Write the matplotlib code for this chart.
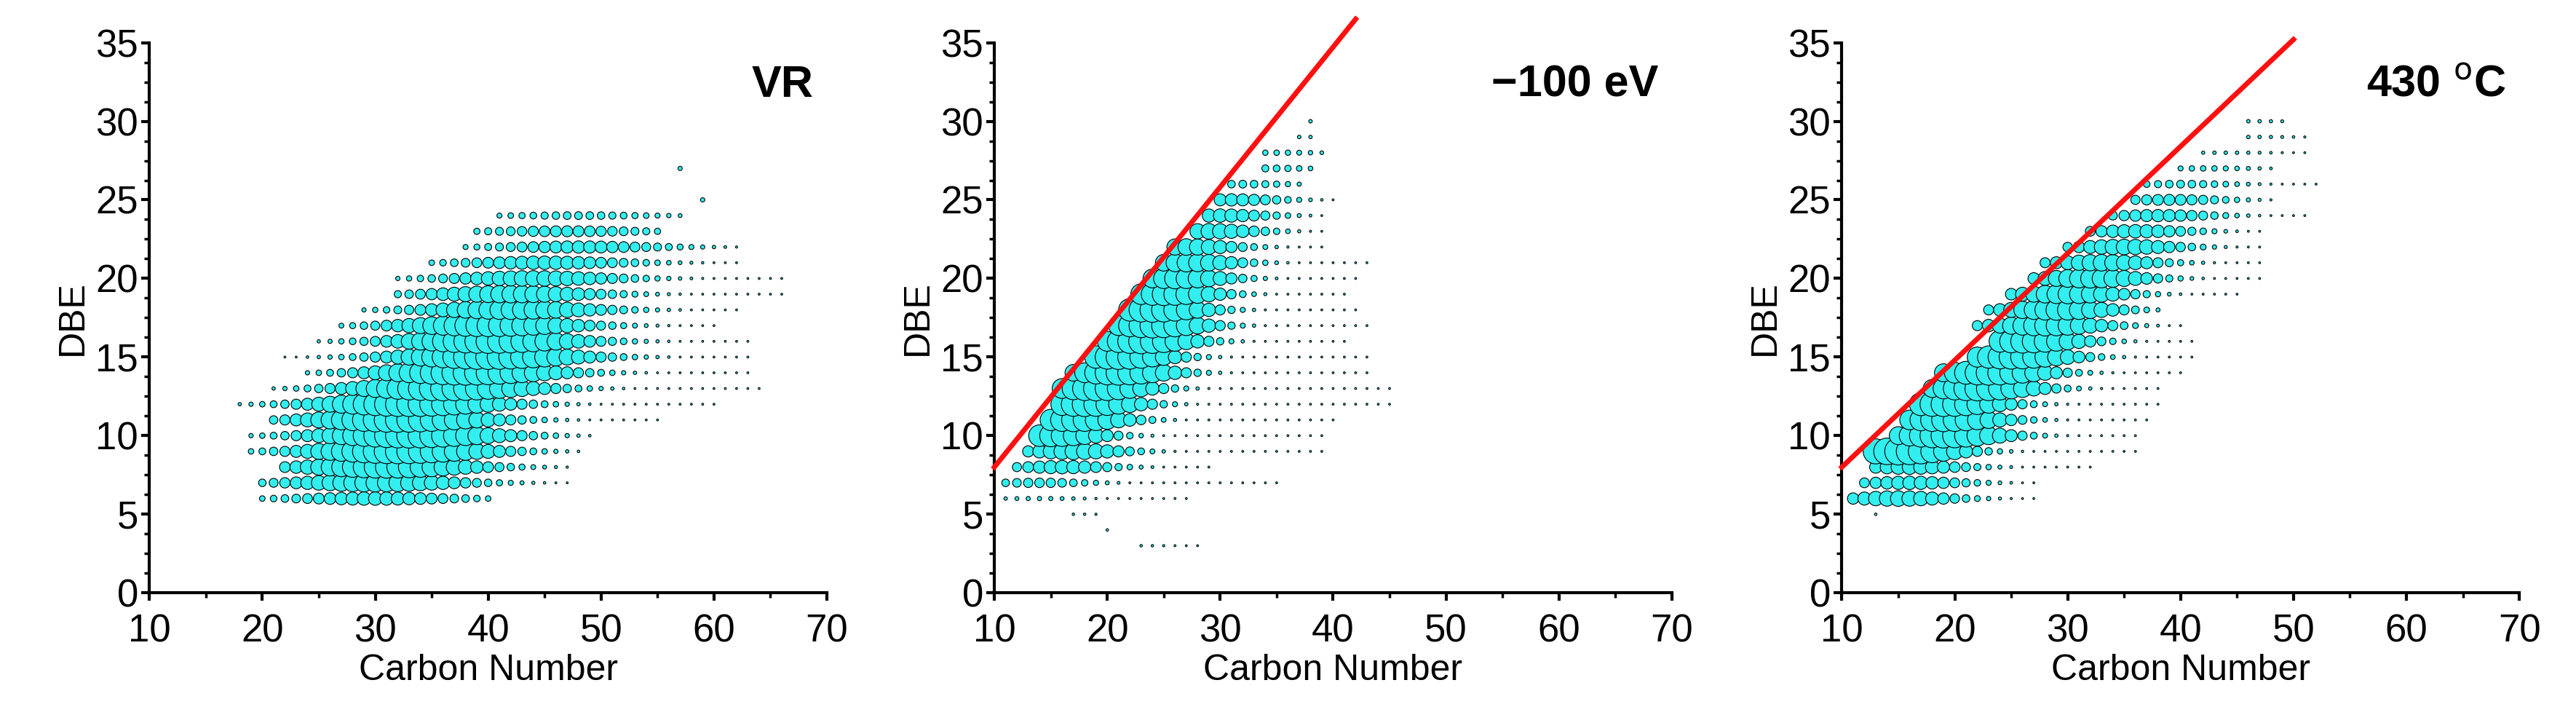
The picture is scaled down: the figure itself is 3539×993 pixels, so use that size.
import numpy as np
import matplotlib.pyplot as plt
from matplotlib.ticker import MultipleLocator

plt.rcParams['font.family'] = ['Liberation Sans', 'DejaVu Sans']

# per DBE row: min carbon, max carbon, carbon of biggest bubble, relative size of biggest bubble
vr_dbe = [6, 7, 8, 9, 10, 11, 12, 13, 14, 15, 16, 17, 18, 19, 20, 21, 22, 23, 24, 25, 27]
vr_cmin = [20, 20, 22, 19, 19, 21, 18, 21, 24, 22, 25, 27, 29, 32, 32, 35, 38, 39, 41, 59, 57]
vr_cmax = [40, 47, 47, 48, 49, 55, 60, 64, 63, 63, 63, 60, 62, 66, 66, 62, 62, 55, 57, 59, 57]
vr_cpk = [30, 30, 31, 32, 33, 32, 33, 36, 38, 40, 40, 40, 42, 42, 44, 45, 48, 47, 48, 59, 57]
vr_amp = [0.3, 0.55, 0.8, 1.0, 1.0, 1.0, 1.0, 1.0, 1.0, 1.0, 0.95, 0.8, 0.6, 0.5, 0.4, 0.3, 0.25, 0.2, 0.1, 0.03, 0.03]

ev_dbe = [3, 4, 5, 6, 7, 8, 9, 10, 11, 12, 13, 14, 15, 16, 17, 18, 19, 20, 21, 22, 23, 24, 25, 26, 27, 28, 29, 30]
ev_cmin = [23, 20, 17, 11, 11, 12, 13, 14, 15, 16, 16, 17, 19, 20, 21, 22, 23, 24, 25, 26, 28, 29, 30, 31, 34, 34, 37, 38]
ev_cmax = [28, 20, 19, 27, 35, 29, 39, 39, 40, 45, 45, 43, 43, 41, 43, 42, 41, 42, 43, 39, 39, 39, 40, 37, 38, 39, 38, 38]
ev_cpk = [23, 20, 17, 14, 14, 16, 17, 15, 17, 18, 19, 21, 21, 23, 24, 24, 25, 26, 27, 27, 29, 30, 31, 32, 34, 35, 37, 38]
ev_amp = [0.01, 0.01, 0.01, 0.03, 0.15, 0.3, 0.45, 0.8, 0.9, 1.0, 1.0, 1.0, 1.0, 1.0, 1.0, 1.0, 0.85, 0.7, 0.55, 0.45, 0.4, 0.3, 0.25, 0.1, 0.08, 0.05, 0.02, 0.02]

t_dbe = [5, 6, 7, 8, 9, 10, 11, 12, 13, 14, 15, 16, 17, 18, 19, 20, 21, 22, 23, 24, 25, 26, 27, 28, 29, 30]
t_cmin = [13, 11, 12, 13, 13, 15, 16, 17, 18, 19, 22, 24, 22, 23, 25, 27, 28, 30, 32, 34, 36, 37, 40, 42, 46, 46]
t_cmax = [13, 27, 27, 32, 36, 36, 37, 38, 38, 40, 41, 41, 40, 38, 45, 47, 47, 47, 47, 51, 48, 52, 48, 51, 51, 49]
t_cpk = [13, 15, 16, 16, 15, 19, 19, 19, 22, 23, 25, 26, 28, 29, 30, 32, 33, 35, 36, 38, 39, 40, 42, 44, 46, 46]
t_amp = [0.01, 0.4, 0.3, 0.35, 1.2, 1.0, 0.9, 1.0, 1.0, 1.0, 0.95, 0.9, 0.7, 0.7, 0.6, 0.6, 0.45, 0.4, 0.3, 0.25, 0.2, 0.1, 0.05, 0.02, 0.02, 0.02]

titles = ['VR', '\u2212100 eV', '430 $^{\\rm o}$C']
# red boundary lines: (x0, y0, x1, y1)
limit_lines = [None, (10, 8, 42, 36.5), (10, 8, 50, 35.2)]

panels = [
    (vr_dbe, vr_cmin, vr_cmax, vr_cpk, vr_amp, 7.5),
    (ev_dbe, ev_cmin, ev_cmax, ev_cpk, ev_amp, 4.5),
    (t_dbe, t_cmin, t_cmax, t_cpk, t_amp, 5.0),
]

fig = plt.figure(figsize=(35.39, 9.93), dpi=100)
lefts = [0.058, 0.386, 0.715]
for i, (dbe, cmin, cmax, cpk, amp, w) in enumerate(panels):
    ax = fig.add_axes([lefts[i], 0.180, 0.263, 0.761])
    xs, ys, ss = [], [], []
    for d, lo, hi, pk, a in zip(dbe, cmin, cmax, cpk, amp):
        for c in range(lo, hi + 1):
            rel = a * np.exp(-((c - pk) / w) ** 2)
            xs.append(c)
            ys.append(d)
            ss.append(max(rel, 0.006) * 600)
    ax.scatter(xs, ys, s=ss, c='#33EEEE', edgecolors='black', linewidths=0.8, zorder=2)
    if limit_lines[i]:
        x0, y0, x1, y1 = limit_lines[i]
        ax.plot([x0, x1], [y0, y1], color='#FF1010', lw=5, zorder=3, clip_on=False)
    ax.set_xlim(10, 70)
    ax.set_ylim(0, 35)
    ax.xaxis.set_major_locator(MultipleLocator(10))
    ax.xaxis.set_minor_locator(MultipleLocator(5))
    ax.yaxis.set_major_locator(MultipleLocator(5))
    ax.yaxis.set_minor_locator(MultipleLocator(1.25))
    for s in ['top', 'right']:
        ax.spines[s].set_visible(False)
    for s in ['left', 'bottom']:
        ax.spines[s].set_linewidth(3)
    ax.tick_params(which='major', length=8, width=3, labelsize=38)
    ax.tick_params(axis='x', which='major', pad=12)
    ax.tick_params(axis='y', which='major', pad=3)
    ax.tick_params(which='minor', length=5, width=2.5)
    ax.set_xlabel('Carbon Number', fontsize=36, labelpad=4)
    ax.set_ylabel('DBE', fontsize=36, labelpad=6)
    ax.text(0.98, 0.96, titles[i], transform=ax.transAxes, ha='right', va='top',
            fontsize=44, fontweight='bold')

fig.savefig('out.png', dpi=100)
